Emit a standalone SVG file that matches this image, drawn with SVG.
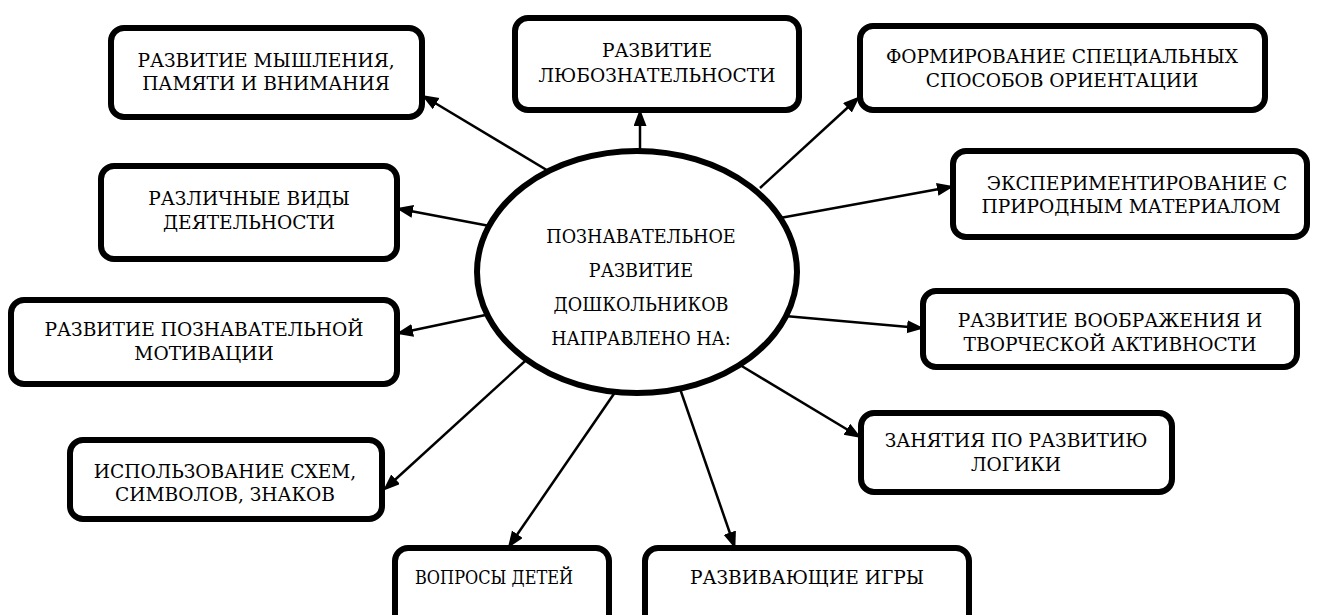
<svg xmlns="http://www.w3.org/2000/svg" width="1330" height="615" viewBox="0 0 1330 615">
<defs>
<style>
.box{fill:#fff;stroke:#000;stroke-width:6}
.t{font-family:"DejaVu Serif",serif;font-size:18.6px;fill:#000;text-anchor:middle}
.tc{font-family:"DejaVu Serif",serif;font-size:17.6px;fill:#000;text-anchor:middle}
.c{stroke:#000;stroke-width:2.5;fill:none;marker-end:url(#ah)}
</style>
<marker id="ah" markerUnits="userSpaceOnUse" markerWidth="18" markerHeight="14" refX="13" refY="6.5" orient="auto">
<path d="M0,0 L17,6.5 L0,13 z" fill="#000"/>
</marker>
</defs>
<rect width="1330" height="615" fill="#fff"/>
<g id="connectors">
<line class="c" x1="640" y1="160" x2="640" y2="113"/>
<line class="c" x1="560" y1="178" x2="425" y2="97"/>
<line class="c" x1="760" y1="188" x2="857" y2="99"/>
<line class="c" x1="780" y1="218" x2="950" y2="187"/>
<line class="c" x1="785" y1="316" x2="920" y2="328"/>
<line class="c" x1="740" y1="365" x2="858" y2="436"/>
<line class="c" x1="677" y1="380" x2="734" y2="545"/>
<line class="c" x1="620" y1="385" x2="510" y2="545"/>
<line class="c" x1="535" y1="352" x2="386" y2="488"/>
<line class="c" x1="495" y1="313" x2="400" y2="333"/>
<line class="c" x1="495" y1="227" x2="400" y2="209"/>
</g>
<g id="center">
<ellipse class="box" cx="637" cy="272" rx="160" ry="121"/>
<text class="tc" x="641" y="243">ПОЗНАВАТЕЛЬНОЕ</text>
<text class="tc" x="641" y="277">РАЗВИТИЕ</text>
<text class="tc" x="641" y="311">ДОШКОЛЬНИКОВ</text>
<text class="tc" x="641" y="345">НАПРАВЛЕНО НА:</text>
</g>
<g id="n-myshlenie">
<rect class="box" x="111" y="28" width="311" height="89" rx="13"/>
<text class="t" x="266" y="67">РАЗВИТИЕ МЫШЛЕНИЯ,</text>
<text class="t" x="266" y="90">ПАМЯТИ И ВНИМАНИЯ</text>
</g>
<g id="n-lyuboznatelnost">
<rect class="box" x="515" y="18" width="284" height="92" rx="13"/>
<text class="t" x="657" y="57">РАЗВИТИЕ</text>
<text class="t" x="657" y="82">ЛЮБОЗНАТЕЛЬНОСТИ</text>
</g>
<g id="n-orientaciya">
<rect class="box" x="860" y="26" width="405" height="84" rx="13"/>
<text class="t" x="1062" y="63">ФОРМИРОВАНИЕ СПЕЦИАЛЬНЫХ</text>
<text class="t" x="1062" y="87">СПОСОБОВ ОРИЕНТАЦИИ</text>
</g>
<g id="n-eksperiment">
<rect class="box" x="953" y="151" width="354" height="86" rx="13"/>
<text class="t" x="1137" y="190">ЭКСПЕРИМЕНТИРОВАНИЕ С</text>
<text class="t" x="1131" y="213">ПРИРОДНЫМ МАТЕРИАЛОМ</text>
</g>
<g id="n-voobrazhenie">
<rect class="box" x="923" y="291" width="374" height="76" rx="13"/>
<text class="t" x="1110" y="327">РАЗВИТИЕ ВООБРАЖЕНИЯ И</text>
<text class="t" x="1110" y="351">ТВОРЧЕСКОЙ АКТИВНОСТИ</text>
</g>
<g id="n-logika">
<rect class="box" x="861" y="413" width="311" height="79" rx="13"/>
<text class="t" x="1016" y="447">ЗАНЯТИЯ ПО РАЗВИТИЮ</text>
<text class="t" x="1016" y="471">ЛОГИКИ</text>
</g>
<g id="n-igry">
<rect class="box" x="645" y="548" width="324" height="100" rx="13"/>
<text class="t" x="807" y="584">РАЗВИВАЮЩИЕ ИГРЫ</text>
</g>
<g id="n-voprosy">
<rect class="box" x="395" y="548" width="214" height="100" rx="13"/>
<text class="t" x="494" y="584" textLength="158" lengthAdjust="spacingAndGlyphs">ВОПРОСЫ ДЕТЕЙ</text>
</g>
<g id="n-skhemy">
<rect class="box" x="70" y="440" width="312" height="79" rx="13"/>
<text class="t" x="225" y="478">ИСПОЛЬЗОВАНИЕ СХЕМ,</text>
<text class="t" x="225" y="501">СИМВОЛОВ, ЗНАКОВ</text>
</g>
<g id="n-motivaciya">
<rect class="box" x="11" y="300" width="386" height="84" rx="13"/>
<text class="t" x="204" y="336">РАЗВИТИЕ ПОЗНАВАТЕЛЬНОЙ</text>
<text class="t" x="204" y="360">МОТИВАЦИИ</text>
</g>
<g id="n-vidy">
<rect class="box" x="101" y="166" width="296" height="93" rx="13"/>
<text class="t" x="249" y="205">РАЗЛИЧНЫЕ ВИДЫ</text>
<text class="t" x="249" y="229">ДЕЯТЕЛЬНОСТИ</text>
</g>
</svg>
